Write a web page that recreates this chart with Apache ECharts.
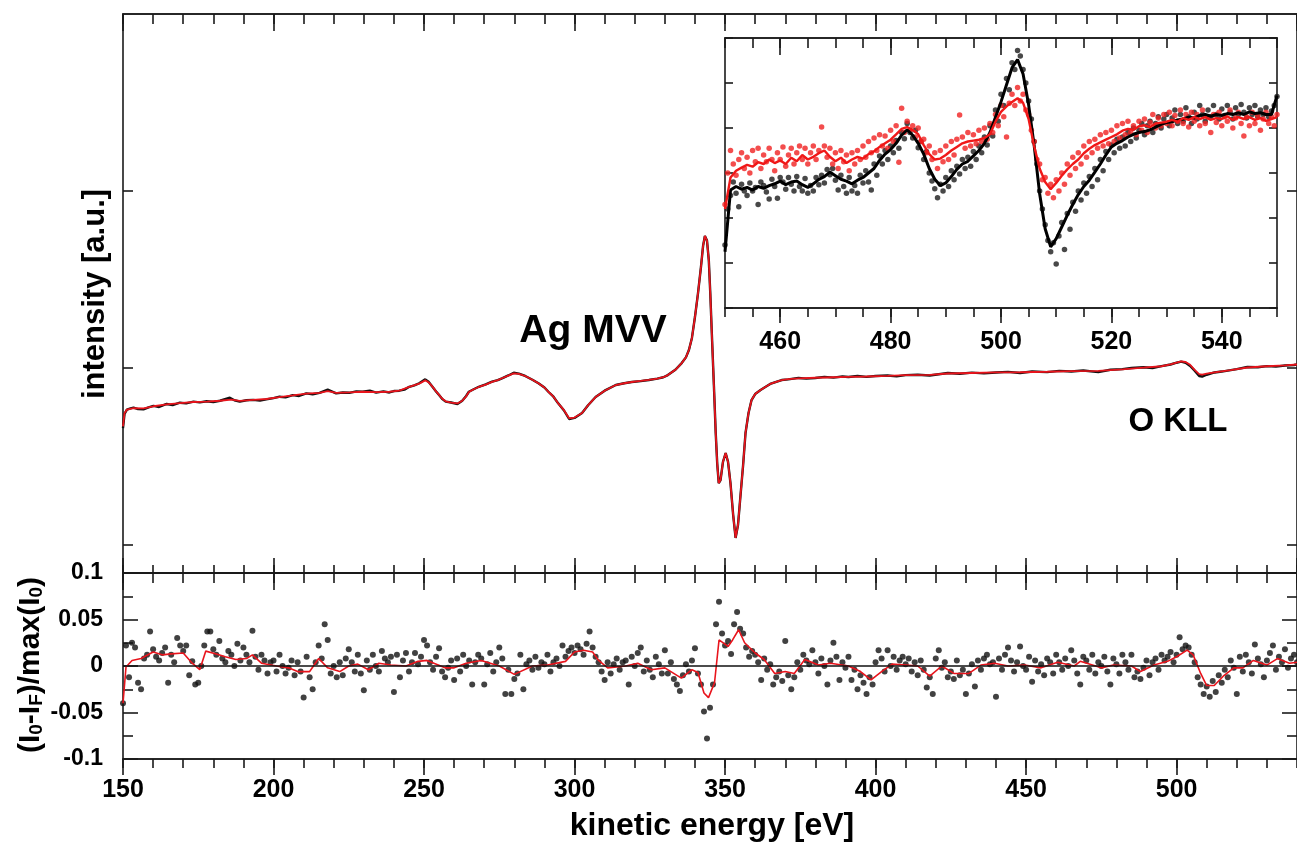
<!DOCTYPE html>
<html><head><meta charset="utf-8">
<script src="https://cdn.jsdelivr.net/npm/echarts@6/dist/echarts.min.js"></script>
<style>html,body{margin:0;padding:0;background:#fff}#c{width:1297px;height:848px}</style>
</head><body><div id="c"></div>
<script>
// ---------------- DATA ----------------
// main spectrum (Ag MVV / O KLL), [kinetic energy eV, intensity a.u.]
const mainData = [[150,0.66],[150.5,0.74],[151.3,0.765],[152.5,0.772],[153.5,0.776],[155,0.768],[156.8,0.767],[158.5,0.778],[160.1,0.786],[162,0.78],[164.5,0.797],[166.5,0.79],[168.9,0.804],[171,0.80],[173.4,0.81],[175.5,0.806],[177.8,0.812],[180,0.808],[182.2,0.815],[185.5,0.832],[187,0.818],[188.8,0.81],[191,0.818],[193.2,0.82],[195.5,0.816],[197.6,0.823],[200,0.83],[202,0.838],[204,0.834],[206.4,0.847],[208.5,0.842],[210.9,0.857],[213,0.852],[215.3,0.86],[218,0.878],[220.8,0.857],[223,0.862],[225.2,0.86],[227.5,0.868],[229.6,0.866],[232,0.872],[234.1,0.861],[236.5,0.868],[238.5,0.862],[240,0.87],[241.8,0.872],[243.5,0.878],[245.1,0.894],[246.8,0.902],[248.4,0.914],[250.4,0.936],[251.5,0.922],[252.8,0.894],[254,0.868],[255,0.847],[256,0.826],[257.2,0.81],[259,0.805],[261.1,0.797],[262.7,0.815],[264,0.842],[264.9,0.866],[266.5,0.88],[268.2,0.894],[270.5,0.908],[272.6,0.923],[274.5,0.932],[275.9,0.942],[278,0.958],[279.8,0.973],[281.5,0.968],[283.6,0.955],[286,0.934],[288,0.914],[290,0.89],[291.3,0.866],[293,0.838],[294.5,0.802],[296.5,0.76],[298.2,0.712],[300,0.718],[302.5,0.746],[304.5,0.79],[307,0.836],[310,0.872],[313.7,0.904],[316.5,0.914],[319,0.921],[322,0.926],[324.7,0.932],[327.5,0.94],[329.5,0.948],[331,0.96],[333.5,0.99],[335.6,1.028],[337,1.06],[338,1.102],[339,1.17],[340,1.288],[341,1.42],[342,1.571],[342.7,1.69],[343.3,1.746],[344,1.72],[344.6,1.61],[345.1,1.42],[345.6,1.198],[346.3,0.9],[346.9,0.633],[347.4,0.46],[347.9,0.35],[348.5,0.367],[349.3,0.469],[350.2,0.52],[351,0.469],[351.8,0.35],[352.7,0.169],[353.5,0.04],[354.3,0.113],[355,0.254],[356,0.452],[356.8,0.633],[357.8,0.746],[358.8,0.819],[360,0.853],[361.8,0.876],[363.5,0.894],[365,0.91],[367,0.922],[368.8,0.932],[371,0.936],[374.4,0.944],[377,0.94],[380,0.944],[383,0.95],[386,0.946],[389,0.952],[391,0.949],[394,0.955],[397,0.95],[400,0.955],[404,0.958],[407,0.953],[410,0.96],[414,0.962],[418,0.958],[421,0.965],[424,0.972],[428,0.968],[432,0.974],[436,0.97],[440,0.975],[444,0.978],[448,0.972],[452,0.98],[457,0.977],[461,0.984],[465,0.98],[469,0.986],[474,0.977],[478,0.99],[482,0.994],[485,1.0],[489,1.004],[492,1.0],[495,1.011],[498,1.02],[500,1.03],[501.5,1.036],[503,1.03],[504.5,1.012],[506,0.985],[507.5,0.955],[508.5,0.952],[510,0.962],[512.6,0.975],[515,0.98],[518,0.988],[520,0.994],[523.5,1.006],[527,1.004],[530,1.011],[533,1.008],[536,1.014],[539,1.017],[540,1.02]];
const mainFit = [[150,0.67],[150.5,0.745],[151.3,0.765],[153.5,0.774],[156.8,0.772],[160.1,0.784],[164.5,0.795],[168.9,0.802],[173.4,0.808],[177.8,0.81],[182.2,0.815],[186,0.822],[188.8,0.814],[193.2,0.82],[197.6,0.825],[202,0.836],[206.4,0.845],[210.9,0.855],[215.3,0.86],[218,0.87],[220.8,0.86],[225.2,0.862],[229.6,0.866],[234.1,0.864],[238.5,0.866],[241.8,0.872],[245.1,0.893],[248.4,0.912],[250.4,0.93],[251.5,0.92],[252.8,0.895],[254,0.868],[255,0.848],[256,0.828],[257.2,0.812],[259,0.805],[261.1,0.8],[262.7,0.815],[264,0.84],[264.9,0.864],[266.5,0.88],[268.2,0.893],[270.5,0.906],[272.6,0.922],[274.5,0.932],[275.9,0.942],[278,0.957],[279.8,0.97],[281.5,0.967],[283.6,0.955],[286,0.934],[288,0.914],[290,0.89],[291.3,0.866],[293,0.838],[294.5,0.802],[296.5,0.762],[298.2,0.716],[300,0.72],[302.5,0.746],[304.5,0.79],[307,0.836],[310,0.872],[313.7,0.904],[316.5,0.914],[319,0.921],[322,0.927],[324.7,0.933],[327.5,0.94],[329.5,0.948],[331,0.96],[333.5,0.99],[335.6,1.028],[337,1.06],[338,1.102],[339,1.17],[340,1.288],[341,1.42],[342,1.571],[342.7,1.69],[343.3,1.746],[344,1.72],[344.6,1.61],[345.1,1.42],[345.6,1.198],[346.3,0.9],[346.9,0.633],[347.4,0.46],[347.9,0.35],[348.5,0.367],[349.3,0.469],[350.2,0.52],[351,0.469],[351.8,0.35],[352.7,0.169],[353.5,0.04],[354.3,0.113],[355,0.254],[356,0.452],[356.8,0.633],[357.8,0.746],[358.8,0.819],[360,0.853],[361.8,0.876],[363.5,0.894],[365,0.91],[367,0.922],[368.8,0.932],[371,0.937],[374.4,0.942],[380,0.945],[386,0.948],[391,0.95],[397,0.952],[404,0.956],[410,0.96],[418,0.961],[424,0.969],[432,0.972],[440,0.975],[448,0.976],[457,0.979],[465,0.982],[474,0.984],[482,0.992],[489,1.002],[495,1.01],[498,1.02],[500,1.03],[501.5,1.038],[503,1.034],[504.5,1.018],[506,0.99],[507.5,0.966],[508.5,0.962],[510,0.968],[512.6,0.976],[518,0.988],[523.5,1.003],[530,1.01],[536,1.015],[540,1.02]];

// residuals (I0-IF)/max(I0), one point per eV from resStart
const resStart = 150, resStep = 1;
const resData = [
-0.04,0.022,-0.012,0.025,0.02,-0.018,-0.025,0.008,0.012,0.037,
0.018,0.01,0.006,0.014,0.02,-0.018,0.012,0.004,0.03,0.022,
0.016,0.022,-0.01,0.005,-0.02,-0.018,0.0,0.022,0.037,0.037,
0.018,0.012,0.027,0.008,0.004,0.016,0.012,0.0,0.024,0.006,
0.02,0.012,0.004,0.038,0.01,-0.004,0.012,0.006,-0.008,0.004,
0.006,-0.006,0.012,0.0,-0.008,-0.002,0.006,-0.01,0.004,-0.006,
-0.034,0.01,-0.012,-0.025,0.004,0.022,0.008,0.045,0.028,-0.008,
0.0,-0.012,0.004,-0.01,0.008,0.018,0.004,-0.006,0.012,-0.008,
-0.026,0.006,-0.004,0.012,0.0,-0.006,0.016,0.008,0.004,0.01,
-0.028,0.012,-0.012,0.006,0.014,-0.006,0.004,0.014,0.002,0.01,
0.028,0.022,0.004,-0.004,0.01,0.019,-0.006,-0.012,-0.002,0.006,
-0.015,0.008,-0.006,0.012,0.0,0.006,-0.02,0.004,0.012,0.008,
-0.02,0.002,0.014,-0.006,0.004,0.02,0.008,-0.03,-0.004,-0.03,
-0.014,-0.008,0.012,-0.025,0.002,0.006,-0.004,0.01,-0.002,0.004,
0.002,0.012,-0.006,0.004,0.008,0.0,0.022,0.01,0.016,0.02,
0.014,0.022,0.018,0.012,0.024,0.037,0.02,0.01,0.004,-0.006,
-0.015,0.004,-0.008,0.002,0.008,-0.004,0.004,0.006,-0.02,0.01,
0.0,0.014,0.02,-0.006,0.006,-0.004,-0.012,0.01,0.002,-0.008,
0.017,-0.008,0.004,-0.014,-0.02,-0.027,-0.01,0.002,-0.006,0.006,
0.019,-0.008,-0.02,-0.049,-0.078,-0.045,-0.02,0.045,0.069,0.035,
0.022,0.027,0.013,0.045,0.058,0.04,0.035,0.02,0.01,0.016,
0.012,0.004,-0.015,0.008,-0.004,0.002,-0.02,-0.012,-0.006,-0.016,
0.027,-0.01,-0.025,-0.012,0.004,-0.004,0.012,0.006,0.002,0.017,
0.004,-0.008,0.008,0.0,-0.02,0.006,0.025,0.01,-0.015,0.004,
-0.002,0.01,-0.015,-0.004,-0.025,-0.01,-0.018,-0.03,-0.012,-0.02,
0.004,0.017,0.008,-0.006,0.017,0.0,0.01,-0.004,0.006,0.01,
0.002,0.008,-0.006,0.004,-0.01,0.006,-0.004,-0.023,-0.012,-0.03,
0.008,0.017,-0.002,0.004,-0.012,-0.006,-0.014,0.006,-0.01,-0.004,
-0.03,-0.008,0.002,-0.022,0.006,-0.004,0.008,0.012,0.002,0.004,
-0.033,0.008,-0.004,0.012,0.02,0.006,-0.006,0.004,0.021,0.0,
-0.004,0.01,-0.017,0.006,-0.006,0.002,-0.01,0.008,0.004,-0.008,
0.012,0.004,-0.004,0.008,0.0,0.017,0.006,-0.008,-0.02,0.01,
0.006,-0.004,0.012,-0.008,0.004,0.0,0.01,-0.006,-0.02,0.008,
0.002,-0.008,0.012,0.004,-0.004,0.012,-0.012,-0.006,-0.014,-0.002,
0.006,-0.01,0.004,0.008,-0.004,0.012,0.006,0.01,0.015,0.004,
0.012,0.031,0.018,0.022,0.02,0.012,0.004,-0.012,-0.02,-0.03,
-0.022,-0.033,-0.016,-0.028,-0.01,-0.018,-0.004,-0.012,0.006,-0.002,
-0.03,0.01,-0.006,0.012,0.004,-0.008,0.023,0.008,0.002,-0.012,
0.006,0.014,0.022,-0.004,0.01,0.004,0.018,-0.002,0.008,0.012,
0.004];
const resFit = [[150,-0.04],[151,-0.001],[153,0.006],[156,0.008],[160,0.015],[163,0.012],[166,0.013],[170,0.014],[173,0.003],[175.5,-0.004],[177.5,0.016],[181,0.013],[184,0.01],[187.5,0.007],[191,0.008],[193,0.012],[196,0.003],[201,0],[205,-0.002],[208,-0.006],[212,-0.006],[215,0.008],[218,-0.002],[222,-0.006],[225,0],[228,0.002],[231.5,-0.004],[235,0.003],[239,0.001],[244,0],[248,0.005],[251,0.006],[257,-0.002],[260,-0.002],[264,0.003],[269,0.006],[275,0],[280,-0.009],[286,0],[291,0.001],[297,0.005],[300,0.015],[303,0.017],[306,0.015],[308,0.006],[311,-0.002],[317,0],[321,0.003],[325.5,-0.004],[330,-0.002],[335.5,-0.013],[339,-0.004],[341,-0.007],[343,-0.029],[344.5,-0.034],[346.5,-0.018],[348,0.028],[351,0.021],[352.5,0.028],[354.5,0.039],[356.5,0.025],[360,0.014],[363,0.007],[366.5,-0.008],[370,-0.006],[373,-0.008],[376.5,0.007],[381,0.001],[385,0.003],[391,0],[395,-0.006],[398.5,-0.015],[402,-0.006],[405.5,0.002],[410,0.001],[414,0],[418,-0.011],[422,0],[426,-0.008],[431,-0.008],[435,0.001],[439.5,0.003],[444,0],[449.5,0.001],[455,-0.002],[460.5,0.004],[466,0],[468,0.005],[475,-0.002],[479,0.001],[485,0],[488,-0.006],[492.5,0.001],[497,0.005],[500,0.01],[503.5,0.017],[505.5,0.012],[508,-0.008],[510,-0.021],[512.5,-0.021],[515.5,-0.011],[519,-0.002],[522,-0.002],[525.5,0.006],[530,0.001],[533.5,0.008],[537.5,0.003],[540,0.004]];

// inset (O KLL region): lines one value per eV, dots one value per 0.5 eV, from 450 eV
const insetStart = 450;
const insetBlackLine = [
1.25,2.62,2.70,2.64,2.68,2.62,2.70,2.66,2.72,2.76,
2.82,2.74,2.80,2.82,2.74,2.68,2.76,2.86,2.92,3.02,
2.94,2.86,2.82,2.76,2.84,2.90,3.00,3.10,3.28,3.42,
3.52,3.66,3.84,3.96,3.84,3.66,3.42,3.10,2.86,2.72,
2.78,2.92,3.08,3.20,3.26,3.38,3.50,3.66,3.90,4.24,
4.58,4.96,5.34,5.52,5.20,4.52,3.62,2.54,1.76,1.36,
1.54,1.80,2.06,2.30,2.52,2.70,2.84,3.02,3.20,3.40,
3.58,3.66,3.72,3.80,3.86,3.90,3.92,3.96,4.02,4.08,
4.12,4.14,4.18,4.20,4.24,4.22,4.28,4.30,4.26,4.30,
4.28,4.32,4.30,4.34,4.30,4.36,4.32,4.34,4.30,4.30,
4.72];
const insetRedLine = [
2.20,2.90,3.05,3.12,3.18,3.14,3.24,3.20,3.30,3.22,
3.28,3.20,3.34,3.26,3.40,3.30,3.36,3.44,3.50,3.36,
3.26,3.34,3.22,3.30,3.36,3.32,3.42,3.48,3.58,3.66,
3.74,3.86,3.98,4.02,3.96,3.86,3.62,3.42,3.30,3.32,
3.40,3.50,3.58,3.66,3.70,3.72,3.74,3.78,3.86,4.14,
4.36,4.48,4.58,4.66,4.56,4.20,3.60,3.10,2.80,2.64,
2.78,2.94,3.08,3.20,3.30,3.44,3.54,3.62,3.68,3.74,
3.80,3.86,3.94,3.98,3.96,4.04,4.06,4.02,4.10,4.12,
4.14,4.18,4.14,4.22,4.18,4.24,4.20,4.24,4.18,4.22,
4.20,4.26,4.18,4.24,4.20,4.24,4.18,4.22,4.16,4.20,
4.24];
const insetBlackDots = [
1.40,2.20,2.50,2.80,2.55,2.25,2.75,2.60,2.50,2.78,
2.60,2.68,2.30,2.80,2.72,2.58,2.42,2.86,2.70,2.44,
2.90,2.80,2.64,2.90,2.75,2.60,2.92,2.70,2.60,2.88,
2.55,2.72,2.60,2.90,2.74,2.95,2.78,3.08,2.96,3.10,
2.84,2.62,2.95,2.70,2.55,2.90,2.60,2.72,2.55,2.95,
2.78,3.05,2.80,2.62,3.20,2.95,3.38,3.20,3.50,3.30,
3.60,3.45,3.72,3.55,3.90,3.76,4.10,3.90,3.78,3.95,
3.56,3.70,3.30,3.48,3.00,2.82,2.65,2.45,2.75,2.60,
2.90,2.70,3.05,2.85,3.15,2.98,3.30,3.10,3.35,3.15,
3.48,3.30,3.60,3.45,3.80,3.62,4.05,3.82,4.40,4.15,
4.75,4.50,5.10,4.85,5.45,5.30,5.72,5.60,5.30,5.00,
4.60,4.20,3.70,3.20,2.60,2.20,1.85,1.50,1.25,1.45,
0.98,1.60,1.90,1.30,2.10,1.75,2.35,2.15,2.60,2.40,
2.78,2.55,2.92,2.70,3.10,2.85,3.30,3.05,3.48,3.30,
3.62,3.45,3.75,3.55,3.80,3.60,3.90,3.70,4.00,3.78,
3.95,4.10,3.85,4.05,4.15,3.90,4.10,4.25,4.00,4.20,
4.30,4.05,4.22,4.40,4.10,4.30,4.15,4.45,4.25,4.10,
4.35,4.20,4.50,4.30,4.15,4.40,4.25,4.50,4.30,4.20,
4.42,4.28,4.50,4.35,4.20,4.45,4.30,4.52,4.35,4.22,
4.45,4.30,4.50,4.25,4.40,4.30,4.45,4.25,4.38,4.50,
4.70];
const insetRedDots = [
2.30,3.00,3.50,3.20,2.95,3.30,3.45,3.10,3.35,3.00,
3.50,3.25,3.55,3.10,3.40,3.25,3.55,3.30,3.05,3.45,
3.30,3.58,3.15,3.40,3.55,3.20,3.45,3.60,3.30,3.55,
3.20,3.45,3.60,3.30,3.50,4.02,3.60,3.35,3.55,3.20,
3.45,3.10,3.50,3.25,3.40,3.05,3.45,3.20,3.50,3.30,
3.60,3.35,3.70,3.45,3.78,3.50,3.85,3.60,3.82,3.55,
3.95,3.70,4.05,3.24,4.44,3.90,4.15,3.95,4.05,3.80,
4.00,3.70,3.75,3.45,3.60,3.30,3.45,3.10,3.50,3.25,
3.60,3.30,3.70,3.40,3.75,4.29,3.80,3.55,3.90,3.60,
3.85,3.65,3.95,3.70,4.00,3.75,4.10,3.90,4.30,4.05,
4.50,4.25,3.80,4.55,4.75,4.50,4.90,4.60,4.75,4.40,
4.30,3.95,3.70,3.30,3.20,2.85,2.90,2.55,2.75,2.45,
2.85,2.60,3.00,2.75,3.20,2.95,3.35,3.10,3.45,3.20,
3.60,3.35,3.70,3.45,3.75,3.55,3.85,3.60,3.90,3.65,
3.95,3.70,4.05,3.78,4.10,3.85,4.15,3.90,4.05,3.85,
4.15,3.95,4.20,3.90,4.12,4.30,4.00,4.22,4.05,4.30,
4.10,4.35,4.05,4.28,4.15,4.40,4.10,4.30,4.02,4.35,
4.15,4.30,4.05,4.40,4.10,4.25,3.90,4.30,4.12,4.35,
4.05,4.25,4.15,4.40,4.00,4.22,4.35,4.10,3.82,4.25,
4.05,4.35,4.10,4.28,3.95,4.20,4.35,4.10,4.25,4.05,
4.30];

// tick labels
const mainXTicks = [150,200,250,300,350,400,450,500];
const insetXTicks = [460,480,500,520,540];
const topYTicks = [0,1,2];

// ---------------- CHART ----------------
const FONT = '"Liberation Sans", Arial, sans-serif';
const AX = '#1a1a1a';
const seq = (arr, start, step) => arr.map((v, i) => [start + i * step, v]);

function xAxis(grid, pos, min, max, tick, extra) {
  return Object.assign({
    type: 'value', gridIndex: grid, position: pos, min: min, max: max,
    axisLine: { show: true, onZero: false, lineStyle: { color: AX, width: 1.6 } },
    axisTick: Object.assign({ show: true, lineStyle: { color: AX, width: 1.6 } }, tick),
    axisLabel: { show: false }, splitLine: { show: false }
  }, extra || {});
}
function yAxis(grid, pos, min, max, tick, extra) {
  return Object.assign({
    type: 'value', gridIndex: grid, position: pos, min: min, max: max,
    axisLine: { show: true, onZero: false, lineStyle: { color: AX, width: 1.6 } },
    axisTick: Object.assign({ show: true, lineStyle: { color: AX, width: 1.6 } }, tick),
    axisLabel: { show: false }, splitLine: { show: false }
  }, extra || {});
}

const chart = echarts.init(document.getElementById('c'), null, { renderer: 'canvas' });
const option = {
  animation: false,
  backgroundColor: '#fff',
  textStyle: { fontFamily: FONT },
  grid: [
    { left: 123, top: 14, width: 1177, height: 559 },
    { left: 123, top: 573, width: 1177, height: 186 },
    { left: 725, top: 38, width: 552, height: 270, show: true, backgroundColor: '#fff', borderWidth: 0, z: 5 }
  ],
  xAxis: [
    xAxis(0, 'bottom', 150, 540, { inside: true, length: 8 }, { interval: 10 }),                 //0
    xAxis(0, 'bottom', 150, 540, { inside: true, length: 15 }, { interval: 50 }),                //1
    xAxis(0, 'top', 150, 540, { inside: true, length: 10 }, { interval: 10 }),                   //2
    xAxis(0, 'top', 150, 540, { inside: true, length: 17 }, { interval: 50 }),                   //3
    xAxis(1, 'top', 150, 540, { inside: true, length: 10 }, { interval: 10 }),                   //4
    xAxis(1, 'top', 150, 540, { inside: true, length: 17 }, { interval: 50 }),                   //5
    xAxis(1, 'bottom', 150, 540, { inside: false, length: 9 }, { interval: 10 }),                //6
    xAxis(1, 'bottom', 150, 540, { inside: false, length: 16, customValues: mainXTicks }, {      //7
      axisLabel: { show: true, customValues: mainXTicks, margin: 19, fontSize: 25, fontWeight: 'bold', color: '#000', fontFamily: FONT }
    }),
    xAxis(2, 'bottom', 450, 550, { inside: false, length: 9 }, { interval: 5, z: 6 }),          //8
    xAxis(2, 'bottom', 450, 550, { inside: false, length: 15, customValues: insetXTicks }, {     //9
      z: 6,
      axisLabel: { show: true, customValues: insetXTicks, margin: 22, fontSize: 25, fontWeight: 'bold', color: '#000', fontFamily: FONT }
    }),
    xAxis(2, 'top', 450, 550, { inside: true, length: 10 }, { interval: 5, z: 6 }),             //10
    xAxis(2, 'top', 450, 550, { inside: true, length: 17, customValues: insetXTicks }, { z: 6 }) //11
  ],
  yAxis: [
    yAxis(0, 'left', -0.158, 3, { inside: true, length: 10, customValues: topYTicks }),          //0
    yAxis(0, 'right', -0.158, 3, { inside: true, length: 10, customValues: topYTicks }),         //1
    yAxis(1, 'left', -0.1, 0.1, { inside: true, length: 15 }, {                                 //2
      interval: 0.05,
      minorTick: { show: true, splitNumber: 2, length: 10, lineStyle: { color: AX, width: 1.6 } },
      axisLabel: { show: true, margin: 20, fontSize: 23, fontWeight: 'bold', color: '#000', fontFamily: FONT }
    }),
    yAxis(1, 'right', -0.1, 0.1, { inside: true, length: 15 }, {                                //3
      interval: 0.05,
      minorTick: { show: true, splitNumber: 2, length: 10, lineStyle: { color: AX, width: 1.6 } }
    }),
    yAxis(2, 'left', 0, 6, { inside: true, length: 8 }, { interval: 1, z: 6 }),                  //4
    yAxis(2, 'right', 0, 6, { inside: true, length: 8 }, { interval: 1, z: 6 })                  //5
  ],
  series: [
    { type: 'line', xAxisIndex: 0, yAxisIndex: 0, data: mainData, showSymbol: false, symbol: 'none',
      lineStyle: { color: '#111', width: 2.4 }, z: 2 },
    { type: 'line', xAxisIndex: 0, yAxisIndex: 0, data: mainFit, showSymbol: false, symbol: 'none',
      lineStyle: { color: '#e8141c', width: 1.8 }, z: 3 },
    { type: 'scatter', xAxisIndex: 6, yAxisIndex: 2, data: seq(resData, resStart, resStep),
      symbolSize: 6, itemStyle: { color: '#111' }, z: 2,
      markLine: { silent: true, symbol: 'none', label: { show: false },
        lineStyle: { color: '#111', width: 1.6, type: 'solid' }, data: [{ yAxis: 0 }] } },
    { type: 'line', xAxisIndex: 6, yAxisIndex: 2, data: resFit, showSymbol: false, symbol: 'none',
      lineStyle: { color: '#e8141c', width: 1.6 }, z: 3 },
    { type: 'scatter', xAxisIndex: 8, yAxisIndex: 4, data: seq(insetBlackDots, insetStart, 0.5),
      symbolSize: 5.5, itemStyle: { color: '#1a1a1a' }, z: 7 },
    { type: 'scatter', xAxisIndex: 8, yAxisIndex: 4, data: seq(insetRedDots, insetStart, 0.5),
      symbolSize: 5.5, itemStyle: { color: '#f02020' }, z: 7 },
    { type: 'line', xAxisIndex: 8, yAxisIndex: 4, data: seq(insetBlackLine, insetStart, 1), showSymbol: false, symbol: 'none',
      lineStyle: { color: '#000', width: 3 }, z: 8 },
    { type: 'line', xAxisIndex: 8, yAxisIndex: 4, data: seq(insetRedLine, insetStart, 1), showSymbol: false, symbol: 'none',
      lineStyle: { color: '#f01818', width: 2.4 }, z: 9 }
  ],
  graphic: [
    { type: 'text', x: 95, y: 294, rotation: Math.PI / 2, z: 20,
      style: { text: 'intensity [a.u.]', font: 'bold 31px ' + FONT, fill: '#000', textAlign: 'center', textVerticalAlign: 'middle' } },
    { type: 'text', x: 31, y: 665, rotation: Math.PI / 2, z: 20,
      style: { text: '(I{s|0}-I{s|F})/max(I{s|0})', fontSize: 30, fontWeight: 'bold', fontFamily: FONT, fill: '#000',
        textAlign: 'center', textVerticalAlign: 'middle',
        rich: { s: { fontSize: 19, fontWeight: 'bold', fontFamily: FONT, fill: '#000', verticalAlign: 'bottom', lineHeight: 10 } } } },
    { type: 'text', x: 712, y: 826, z: 20,
      style: { text: 'kinetic energy [eV]', font: 'bold 32px ' + FONT, fill: '#000', textAlign: 'center', textVerticalAlign: 'middle' } },
    { type: 'text', x: 593, y: 331, z: 20,
      style: { text: 'Ag MVV', font: 'bold 39px ' + FONT, fill: '#000', textAlign: 'center', textVerticalAlign: 'middle' } },
    { type: 'text', x: 1178, y: 422, z: 20,
      style: { text: 'O KLL', font: 'bold 33px ' + FONT, fill: '#000', textAlign: 'center', textVerticalAlign: 'middle' } }
  ]
};
chart.setOption(option);
</script></body></html>
